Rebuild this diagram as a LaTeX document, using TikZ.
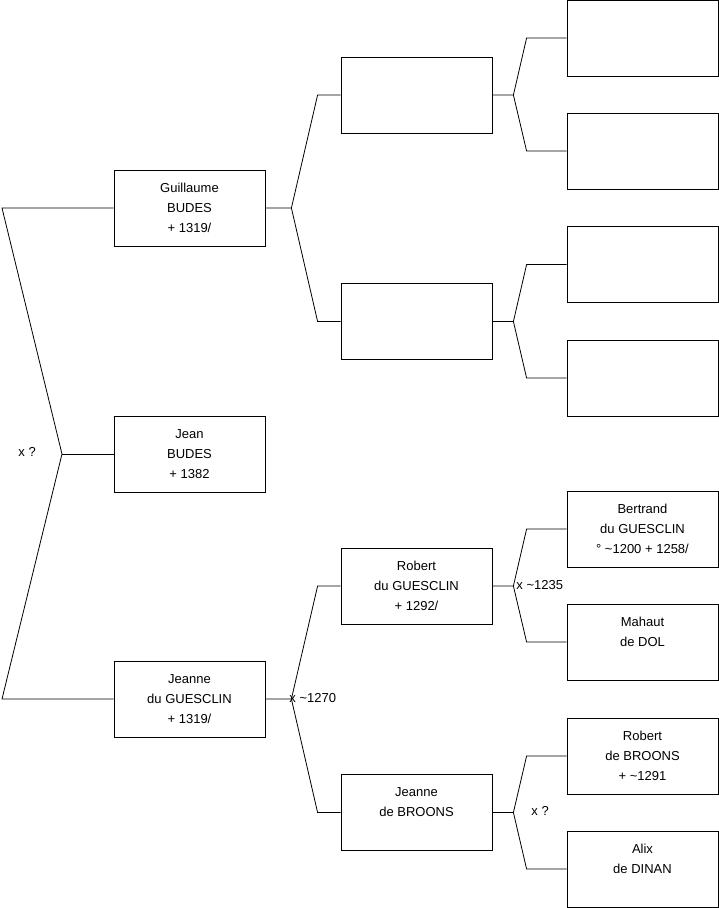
\documentclass[tikz,border=0pt]{standalone}
\usepackage{fontspec}
\setmainfont{Liberation Sans}
\begin{document}
\begin{tikzpicture}[
    x=1pt,
    y=-1pt,
    line width=0.8pt,
    person/.style={draw,minimum width=151pt,minimum height=76pt,
      inner sep=0pt,align=center,font=\fontsize{13}{20}\selectfont},
    couple/.style={font=\fontsize{13}{16}\selectfont,inner sep=0pt}
  ]
    \useasboundingbox (0,0) rectangle (719,908);

    % first generation
    \node[person] (guillaume) at (189.5,208) {Guillaume\\BUDES\\+ 1319/};
    \node[person] (jean) at (189.5,454) {Jean\\BUDES\\+ 1382};
    \node[person] (jeanne) at (189.5,699) {Jeanne\\du GUESCLIN\\+ 1319/};

    % parents
    \node[person] (pa) at (416.5,95) {};
    \node[person] (ma) at (416.5,321.5) {};
    \node[person] (robert) at (416.5,586) {Robert\\du GUESCLIN\\+ 1292/};
    \node[person] (broons) at (416.5,812.5) {Jeanne\\de BROONS\\\mbox{}};

    % grandparents
    \node[person] (papa) at (642.5,38) {};
    \node[person] (pama) at (642.5,151) {};
    \node[person] (mapa) at (642.5,264.5) {};
    \node[person] (mama) at (642.5,378) {};
    \node[person] (bertrand) at (642.5,529)
      {Bertrand\\du GUESCLIN\\° \textasciitilde1200 + 1258/};
    \node[person] (mahaut) at (642.5,642) {Mahaut\\de DOL\\\mbox{}};
    \node[person] (robertb) at (642.5,756) {Robert\\de BROONS\\+ \textasciitilde1291};
    \node[person] (alix) at (642.5,869) {Alix\\de DINAN\\\mbox{}};

    % marriages
    \node[couple,anchor=west] (xroot) at (18,452) {x ?};
    \node[couple,anchor=west] (x1270) at (289,698) {x \textasciitilde1270};
    \node[couple,anchor=west] (x1235) at (516,585) {x \textasciitilde1235};
    \node[couple,anchor=west] (xbroons) at (531,811) {x ?};

    % forks
    \coordinate (root) at (62,454);
    \coordinate (rootA) at (2,208);
    \coordinate (rootB) at (2,699);
    \draw (guillaume.west) -- (rootA) -- (root) -- (rootB) -- (jeanne.west);
    \draw (root) -- (jean.west);

    \draw (guillaume.east) -- ([xshift=26pt]guillaume.east)
      -- ([xshift=-23pt]pa.west) -- (pa.west);
    \draw ([xshift=26pt]guillaume.east)
      -- ([xshift=-23pt]ma.west) -- (ma.west);
    \draw (jeanne.east) -- ([xshift=26pt]jeanne.east)
      -- ([xshift=-23pt]robert.west) -- (robert.west);
    \draw ([xshift=26pt]jeanne.east)
      -- ([xshift=-23pt]broons.west) -- (broons.west);

    \draw (pa.east) -- ([xshift=21pt]pa.east)
      -- ([xshift=-40pt]papa.west) -- (papa.west);
    \draw ([xshift=21pt]pa.east)
      -- ([xshift=-40pt]pama.west) -- (pama.west);
    \draw (ma.east) -- ([xshift=21pt]ma.east)
      -- ([xshift=-40pt]mapa.west) -- (mapa.west);
    \draw ([xshift=21pt]ma.east)
      -- ([xshift=-40pt]mama.west) -- (mama.west);
    \draw (robert.east) -- ([xshift=21pt]robert.east)
      -- ([xshift=-40pt]bertrand.west) -- (bertrand.west);
    \draw ([xshift=21pt]robert.east)
      -- ([xshift=-40pt]mahaut.west) -- (mahaut.west);
    \draw (broons.east) -- ([xshift=21pt]broons.east)
      -- ([xshift=-40pt]robertb.west) -- (robertb.west);
    \draw ([xshift=21pt]broons.east)
      -- ([xshift=-40pt]alix.west) -- (alix.west);
  \end{tikzpicture}
\end{document}
